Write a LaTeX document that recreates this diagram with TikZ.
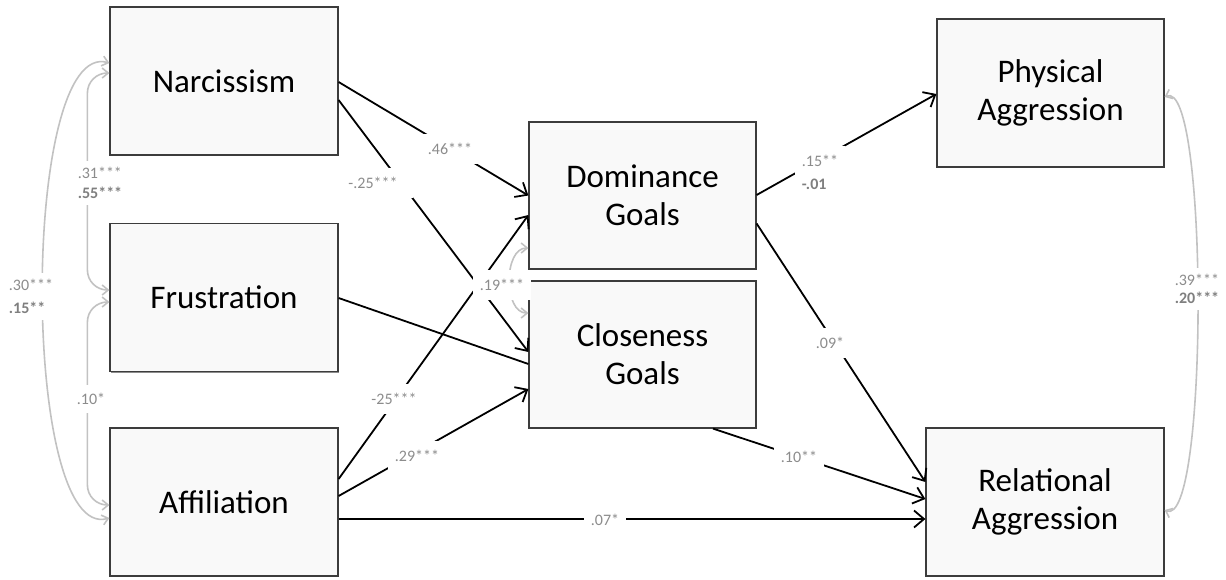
\documentclass[tikz,border=0pt]{standalone}
\usepackage{fontspec}
\setmainfont{Carlito}
\usetikzlibrary{arrows.meta,calc,shadows}
\definecolor{boxfill}{HTML}{F9F9F9}
\definecolor{boxline}{HTML}{3C3C3C}
\definecolor{labgray}{HTML}{8C8C8C}
\definecolor{labbold}{HTML}{7F7F7F}
\definecolor{covgray}{HTML}{C2C2C2}
\begin{document}
\begin{tikzpicture}[x=1pt,y=-1pt,
  var/.style={draw=boxline, line width=1.2pt, fill=boxfill, minimum width=228pt,
    minimum height=148pt, inner sep=0pt, align=center,
    font=\fontsize{33}{38}\selectfont, text=black,
    drop shadow={shadow xshift=1.2pt, shadow yshift=-1.2pt, opacity=.45, fill=black}},
  arr/.style={line width=1.8pt, -{Straight Barb[length=10pt,width=17pt]}},
  plain/.style={line width=1.8pt},
  cov/.style={draw=covgray, line width=1.6pt,
    {Straight Barb[length=6pt,width=10pt]}-{Straight Barb[length=6pt,width=10pt]}},
  lab/.style={fill=white, text=labgray, font=\fontsize{16}{18}\selectfont,
    inner xsep=7pt, inner ysep=9pt, align=left}
]
\useasboundingbox (0,0) rectangle (1226,579);

% variables
\node[var] (narc) at (224,81) {Narcissism};
\node[var] (frus) at (224,297.5) {Frustration};
\node[var] (affi) at (224,502) {Affiliation};
\node[var, minimum width=227pt, minimum height=147pt] (dom) at (642.5,195.5) {Dominance\\Goals};
\node[var, minimum width=227pt, minimum height=147pt] (clos) at (642.5,354.5) {Closeness\\Goals};
\node[var, minimum width=227pt] (phys) at (1050.5,93) {Physical\\Aggression};
\node[var, minimum width=238pt] (rel) at (1045,502) {Relational\\Aggression};

% covariances
\draw[cov, rounded corners=20pt] ([yshift=8pt]narc.west) -- ++(-22,0) |- ([yshift=7.5pt]frus.west);
\draw[cov, rounded corners=20pt] ([yshift=-4.5pt]frus.west) -- ++(-22,0) |- ([yshift=-3pt]affi.west);
\draw[cov] ([yshift=18pt]narc.west) .. controls +(-89,-25) and +(-89,25) .. ([yshift=-16pt]affi.west);
\draw[cov] ([yshift=-4pt]phys.east) .. controls +(44,-20) and +(44,20) .. ([yshift=-8pt]rel.east);
\draw[cov] ([yshift=-52.5pt]dom.west) .. controls +(-25,0) and +(-25,0) .. ([yshift=41.5pt]clos.west);

% paths
\draw[arr] ([yshift=-1pt]narc.east) -- (dom.west);
\draw[arr] ([yshift=-19pt]narc.east) -- ([yshift=2.5pt]clos.west);
\draw[plain] ([yshift=-0.5pt]frus.east) -- ([yshift=-9.5pt]clos.west);
\draw[arr] ([yshift=23pt]affi.east) -- ([yshift=-19.5pt]dom.west);
\draw[arr] ([yshift=6pt]affi.east) -- ([yshift=-34.5pt]clos.west);
\draw[arr] ([yshift=-17pt]affi.east) -- ([yshift=-17pt]rel.west);
\draw[arr] ([yshift=0.5pt]dom.east) -- ([yshift=-1pt]phys.west);
\draw[arr] ([yshift=-28pt]dom.east) -- ([yshift=20pt]rel.west);
\draw[arr] ([xshift=70.5pt]clos.south) -- ([yshift=3pt]rel.west);

% labels
\node[lab] (l46) at (450,149) {.46***};
\node[lab, minimum width=80pt] (l25a) at (373,183) {-.25***};
\node[lab] (l19) at (502,285) {.19***};
\node[lab] (l25b) at (394,399) {-25***};
\node[lab] (l29) at (417,456) {.29***};
\node[lab] (l07) at (605,520) {.07*};
\node[lab, font=\fontsize{16}{23}\selectfont] (l15) at (820,172) {.15**\\{\bfseries\color{labbold}-.01}};
\node[lab] (l09) at (830,343) {.09*};
\node[lab] (l10) at (799,457) {.10**};
\node[lab, inner xsep=2pt, inner ysep=6pt, font=\fontsize{16}{20}\selectfont] (l31) at (100,183) {.31***\\{\bfseries\color{labbold}.55***}};
\node[lab, inner xsep=2pt, inner ysep=6pt, font=\fontsize{16}{23}\selectfont] (l30) at (31,296.5) {.30***\\{\bfseries\color{labbold}.15**}};
\node[lab, inner xsep=2pt, inner ysep=8pt] (l10b) at (91,399) {.10*};
\node[lab, inner xsep=2pt, inner ysep=6pt, font=\fontsize{16}{18}\selectfont] (l39) at (1197,289) {.39***\\{\bfseries\color{labbold}.20***}};
\end{tikzpicture}
\end{document}
